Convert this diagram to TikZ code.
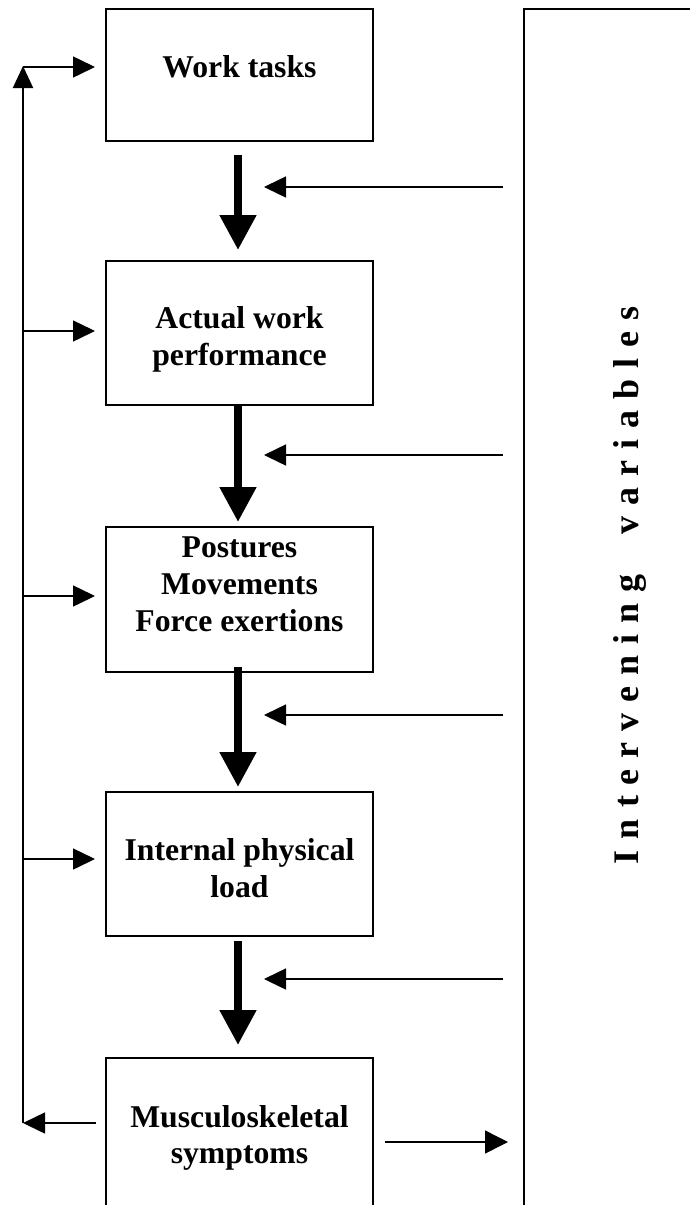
\documentclass[tikz,border=0pt]{standalone}
\usepackage{fontspec}
\setmainfont{Liberation Serif}
\usetikzlibrary{arrows.meta,calc}
\newcommand\lsp{\hspace{11pt}}
\begin{document}
\begin{tikzpicture}[x=1pt,y=-1pt,
  box/.style={draw, line width=2pt, minimum width=267pt, inner sep=0pt, outer sep=0pt},
  lbl/.style={font=\fontsize{31.7}{37}\selectfont\bfseries, inner sep=0pt, anchor=base},
  vlbl/.style={font=\fontsize{36}{40}\selectfont\bfseries, inner sep=0pt, anchor=base, rotate=90},
  bigarrow/.style={line width=8pt, -{Triangle[length=35pt,width=35pt]}},
  thinarrow/.style={line width=1.5pt, -{Triangle[length=22pt,width=21pt]}},
  loopline/.style={line width=2pt, -{Triangle[length=22pt,width=20pt]}}]
\useasboundingbox (0,0) rectangle (690,1205);

% boxes
\node[box, minimum height=132pt] (b1) at (239.5,75) {};
\node[box, minimum height=144pt] (b2) at (239.5,333) {};
\node[box, minimum height=145pt] (b3) at (239.5,599.5) {};
\node[box, minimum height=144pt] (b4) at (239.5,864) {};
\node[box, minimum height=170pt] (b5) at (239.5,1143) {};
\node[draw, line width=2pt, inner sep=0pt, outer sep=0pt, minimum width=200pt, minimum height=1215pt] (iv) at (624,616.5) {};

% texts
\node[lbl] (t1) at (239.5,77) {Work tasks};
\node[lbl] (t2a) at (239.5,328) {Actual work};
\node[lbl] (t2b) at (239.5,365) {performance};
\node[lbl] (t3a) at (239.5,557) {Postures};
\node[lbl] (t3b) at (239.5,594) {Movements};
\node[lbl] (t3c) at (239.5,631) {Force exertions};
\node[lbl] (t4a) at (239.5,860) {Internal physical};
\node[lbl] (t4b) at (239.5,897) {load};
\node[lbl] (t5a) at (239.5,1127) {Musculoskeletal};
\node[lbl] (t5b) at (239.5,1163) {symptoms};
\node[vlbl] (ivt) at (638,585) {I\lsp n\lsp t\lsp e\lsp r\lsp v\lsp e\lsp n\lsp i\lsp n\lsp g\hspace{40pt}v\lsp a\lsp r\lsp i\lsp a\lsp b\lsp l\lsp e\lsp s};

% thick downward arrows
\draw[bigarrow] ($(b1.south)+(-1.5,14)$) -- ($(b2.north)+(-1.5,-11)$);
\draw[bigarrow] ($(b2.south)+(-1.5,-1)$) -- ($(b3.north)+(-1.5,-5)$);
\draw[bigarrow] ($(b3.south)+(-1.5,-5)$) -- ($(b4.north)+(-1.5,-5)$);
\draw[bigarrow] ($(b4.south)+(-1.5,5)$) -- ($(b5.north)+(-1.5,-13)$);

% arrows from intervening variables
\coordinate (r1) at (503,187);  \coordinate (e1) at (264,187);
\coordinate (r2) at (503,455);  \coordinate (e2) at (264,455);
\coordinate (r3) at (503,715);  \coordinate (e3) at (264,715);
\coordinate (r4) at (503,979);  \coordinate (e4) at (264,979);
\draw[thinarrow] (r1) -- (e1);
\draw[thinarrow] (r2) -- (e2);
\draw[thinarrow] (r3) -- (e3);
\draw[thinarrow] (r4) -- (e4);

% feedback loop on the left
\coordinate (lb) at (23,1123);
\coordinate (lt) at (23,66);
\draw[thinarrow] ($(b5.west |- lb)+(-10,0)$) -- (lb);
\draw[loopline] (lb) -- (lt);
\draw[thinarrow] (23,67) -- ($(b1.west |- 0,67)+(-11,0)$);
\draw[thinarrow] (23,331) -- ($(b2.west |- 0,331)+(-11,0)$);
\draw[thinarrow] (23,596) -- ($(b3.west |- 0,596)+(-11,0)$);
\draw[thinarrow] (23,859) -- ($(b4.west |- 0,859)+(-11,0)$);

% output arrow
\coordinate (o1) at (385,1142);
\draw[thinarrow, -{Triangle[length=23pt,width=23pt]}] (o1) -- ($(iv.west |- o1)+(-16,0)$);
\end{tikzpicture}
\end{document}
